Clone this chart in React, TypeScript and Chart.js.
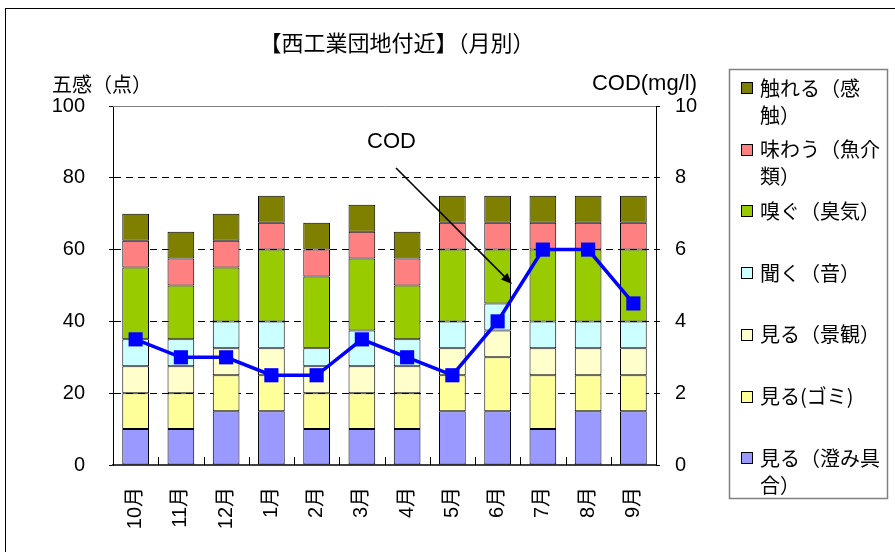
import React, { useEffect, useRef } from 'react';
import { Chart, registerables } from 'chart.js';

Chart.register(...registerables);

// ---------- data ----------
const months = ['10月', '11月', '12月', '1月', '2月', '3月', '4月', '5月', '6月', '7月', '8月', '9月'];
// stacked from bottom to top
const sumiguai = [10, 10, 15, 15, 10, 10, 10, 15, 15, 10, 15, 15]; // 見る（澄み具合）
const gomi = [10, 10, 10, 10, 10, 10, 10, 10, 15, 15, 10, 10]; // 見る(ゴミ)
const keikan = [7.5, 7.5, 7.5, 7.5, 7.5, 7.5, 7.5, 7.5, 7.5, 7.5, 7.5, 7.5]; // 見る（景観）
const oto = [7.5, 7.5, 7.5, 7.5, 5, 10, 7.5, 7.5, 7.5, 7.5, 7.5, 7.5]; // 聞く（音）
const shuki = [20, 15, 15, 20, 20, 20, 15, 20, 15, 20, 20, 20]; // 嗅ぐ（臭気）
const gyokai = [7.5, 7.5, 7.5, 7.5, 7.5, 7.5, 7.5, 7.5, 7.5, 7.5, 7.5, 7.5]; // 味わう（魚介類）
const kanshoku = [7.5, 7.5, 7.5, 7.5, 7.5, 7.5, 7.5, 7.5, 7.5, 7.5, 7.5, 7.5]; // 触れる（感触）
const cod = [3.5, 3.0, 3.0, 2.5, 2.5, 3.5, 3.0, 2.5, 4.0, 6.0, 6.0, 4.5];

const leftTicks = [0, 20, 40, 60, 80, 100];
const rightTicks = [0, 2, 4, 6, 8, 10];

const seriesLabels = ['見る（澄み具合）', '見る(ゴミ)', '見る（景観）', '聞く（音）', '嗅ぐ（臭気）', '味わう（魚介類）', '触れる（感触）'];
const legendLines = [['見る（澄み具', '合）'], ['見る(ゴミ)'], ['見る（景観）'], ['聞く（音）'], ['嗅ぐ（臭気）'], ['味わう（魚介', '類）'], ['触れる（感', '触）']];
const seriesColors = ['#9999FF', '#FFFF99', '#FFFFCC', '#CCFFFF', '#99CC00', '#FF8080', '#808000'];
const seriesData = [sumiguai, gomi, keikan, oto, shuki, gyokai, kanshoku];

const titleText = '【西工業団地付近】（月別）';
const leftAxisTitle = '五感（点）';
const rightAxisTitle = 'COD(mg/l)';
const annotationText = 'COD';

const LATIN = '"Liberation Sans", "Noto Sans CJK JP", sans-serif';
const CJK = '"Noto Sans CJK JP", "Liberation Sans", sans-serif';

const overlayPlugin = {
  id: 'overlay',
  beforeDraw(chart: any) {
    const ctx = chart.ctx;
    ctx.save();
    ctx.fillStyle = '#ffffff';
    ctx.fillRect(0, 0, chart.width, chart.height);
    ctx.strokeStyle = '#000000';
    ctx.lineWidth = 1;
    ctx.strokeRect(5.5, 8.5, chart.width + 20, chart.height + 20);
    ctx.restore();
  },
  afterDraw(chart: any) {
    const ctx = chart.ctx;
    const { left, right, top, bottom } = chart.chartArea;
    ctx.save();
    // top border of plot area
    ctx.strokeStyle = '#808080';
    ctx.lineWidth = 1;
    ctx.beginPath();
    ctx.moveTo(left, top + 0.5);
    ctx.lineTo(right, top + 0.5);
    ctx.stroke();

    // inner x tick marks between categories
    const xs = chart.scales.x;
    const x0 = xs.getPixelForValue(0);
    const step = xs.getPixelForValue(1) - x0;
    ctx.strokeStyle = '#000000';
    ctx.lineWidth = 1;
    for (let i = 0; i <= months.length; i++) {
      const x = Math.round(x0 - step / 2 + i * step) + 0.5;
      ctx.beginPath();
      ctx.moveTo(x, bottom);
      ctx.lineTo(x, bottom - 8);
      ctx.stroke();
    }

    ctx.fillStyle = '#000000';
    // title
    ctx.font = `22px ${CJK}`;
    ctx.textAlign = 'center';
    ctx.textBaseline = 'middle';
    ctx.fillText(titleText, 397, 43);

    // axis titles
    ctx.font = `20px ${CJK}`;
    ctx.textAlign = 'left';
    ctx.fillText(leftAxisTitle, 52, 84);
    ctx.font = `22px ${LATIN}`;
    ctx.textAlign = 'right';
    ctx.fillText(rightAxisTitle, 697, 84);

    // annotation
    ctx.font = `22px ${LATIN}`;
    ctx.textAlign = 'left';
    ctx.fillText(annotationText, 367, 142);
    const ax0 = 396, ay0 = 168, ax1 = 512, ay1 = 284;
    const ang = Math.atan2(ay1 - ay0, ax1 - ax0);
    ctx.strokeStyle = '#000000';
    ctx.lineWidth = 1.6;
    ctx.beginPath();
    ctx.moveTo(ax0, ay0);
    ctx.lineTo(ax1 - 8 * Math.cos(ang), ay1 - 8 * Math.sin(ang));
    ctx.stroke();
    ctx.beginPath();
    ctx.moveTo(ax1, ay1);
    ctx.lineTo(ax1 - 11 * Math.cos(ang) + 4.5 * Math.sin(ang), ay1 - 11 * Math.sin(ang) - 4.5 * Math.cos(ang));
    ctx.lineTo(ax1 - 11 * Math.cos(ang) - 4.5 * Math.sin(ang), ay1 - 11 * Math.sin(ang) + 4.5 * Math.cos(ang));
    ctx.closePath();
    ctx.fill();

    // legend
    ctx.strokeStyle = '#808080';
    ctx.lineWidth = 1.5;
    ctx.strokeRect(729.5, 69.5, 158, 429);
    ctx.font = `20px ${CJK}`;
    ctx.textAlign = 'left';
    ctx.textBaseline = 'middle';
    const ds = chart.data.datasets.filter((d: any) => d.type !== 'line');
    const n = ds.length;
    for (let k = 0; k < n; k++) {
      const idx = n - 1 - k;
      const y = 88 + k * 61.7;
      ctx.fillStyle = ds[idx].backgroundColor;
      ctx.fillRect(741, Math.round(y - 6), 12, 12);
      ctx.strokeStyle = '#000000';
      ctx.lineWidth = 1;
      ctx.strokeRect(741.5, Math.round(y - 6) + 0.5, 11, 11);
      ctx.fillStyle = '#000000';
      const lines = legendLines[idx];
      lines.forEach((t, li) => ctx.fillText(t, 760, y + li * 27));
    }
    ctx.restore();
  },
};

export default function App() {
  const ref = useRef<HTMLCanvasElement | null>(null);
  useEffect(() => {
    if (!ref.current) return;
    const barSets = seriesData.map((d, i) => ({
      type: 'bar' as const,
      label: seriesLabels[i],
      data: d,
      backgroundColor: seriesColors[i],
      borderColor: '#000000',
      borderWidth: 1,
      borderSkipped: false,
      barPercentage: 0.59,
      categoryPercentage: 1.0,
      yAxisID: 'y',
      stack: 's',
      order: 1,
    }));
    const lineSet = {
      type: 'line' as const,
      label: 'COD',
      data: cod,
      borderColor: '#0000FF',
      backgroundColor: '#0000FF',
      borderWidth: 3.5,
      pointStyle: 'rect',
      pointRadius: 10,
      pointBackgroundColor: '#0000FF',
      pointBorderColor: '#0000FF',
      pointBorderWidth: 0,
      yAxisID: 'y2',
      order: 0,
      tension: 0,
    };
    const chart = new Chart(ref.current, {
      type: 'bar',
      data: { labels: months, datasets: [...barSets, lineSet] as any },
      options: {
        animation: false,
        responsive: false,
        maintainAspectRatio: false,
        events: [],
        layout: { padding: { left: 0, right: 179, top: 106, bottom: 0 } },
        plugins: { legend: { display: false }, title: { display: false }, tooltip: { enabled: false } },
        scales: {
          x: {
            stacked: true,
            offset: true,
            grid: { display: false, drawTicks: false },
            border: { display: true, color: '#404040', width: 2 },
            ticks: {
              autoSkip: false,
              minRotation: 90,
              maxRotation: 90,
              padding: 22,
              color: '#000000',
              font: { size: 20, family: LATIN },
            },
            afterFit: (s: any) => { s.height = 87; },
          },
          y: {
            stacked: true,
            position: 'left',
            min: leftTicks[0],
            max: leftTicks[leftTicks.length - 1],
            ticks: { stepSize: leftTicks[1] - leftTicks[0], padding: 24, color: '#000000', font: { size: 20, family: LATIN } },
            grid: {
              color: (c: any) => (c.tick && (c.tick.value === 0 || c.tick.value === 100) ? 'rgba(0,0,0,0)' : '#000000'),
              lineWidth: 1,
              tickLength: 4,
              tickColor: '#000000',
              tickBorderDash: [],
            },
            border: { display: true, color: '#000000', width: 1, dash: [7, 5] },
            afterFit: (s: any) => { s.width = 113; },
          },
          y2: {
            position: 'right',
            min: rightTicks[0],
            max: rightTicks[rightTicks.length - 1],
            ticks: { stepSize: rightTicks[1] - rightTicks[0], padding: 15, color: '#000000', font: { size: 20, family: LATIN } },
            grid: { drawOnChartArea: false, tickLength: 4, color: '#000000' },
            border: { display: true, color: '#000000', width: 1 },
            afterFit: (s: any) => { s.width = 60; },
          },
        },
      } as any,
      plugins: [overlayPlugin],
    });
    return () => chart.destroy();
  }, []);
  return (
    <div style={{ position: 'absolute', left: 0, top: 0, width: 895, height: 552, background: '#fff' }}>
      <canvas ref={ref} width={895} height={552} style={{ width: 895, height: 552, display: 'block' }} />
    </div>
  );
}
